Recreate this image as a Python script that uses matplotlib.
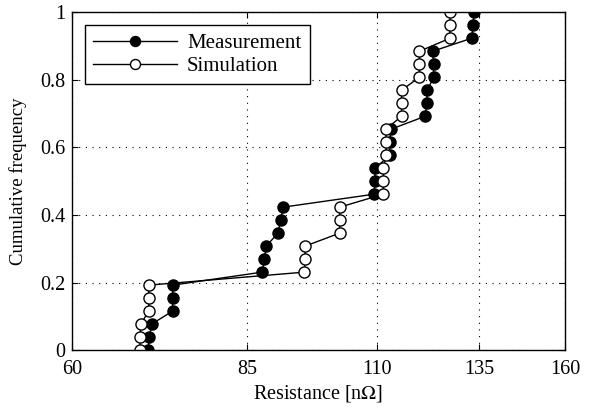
import numpy as np
import matplotlib
matplotlib.use("Agg")
import matplotlib.pyplot as plt
from matplotlib.ticker import FixedLocator, FixedFormatter, NullLocator

plt.rcParams['font.family'] = ['Liberation Serif', 'DejaVu Serif']
plt.rcParams['mathtext.fontset'] = 'stix'

cum_freq = [i / 26 for i in range(27)]
measurement = [69.8, 70.0, 70.3, 73.3, 73.3, 73.3, 87.6, 88.0, 88.3, 90.4, 90.9, 91.3,
               109.5, 109.6, 109.7, 112.9, 112.9, 113.2, 121.2, 121.5, 121.7, 123.2, 123.2,
               123.0, 132.9, 133.3, 133.5]
simulation = [68.7, 68.7, 68.8, 69.9, 69.9, 69.9, 95.3, 95.4, 95.4, 102.2, 102.2, 102.2,
              111.5, 111.5, 111.5, 112.1, 112.1, 112.1, 115.6, 115.6, 115.6, 119.8, 119.8,
              119.8, 127.3, 127.3, 127.3]
x_ticks = [60, 85, 110, 135, 160]
y_ticks = [0, 0.2, 0.4, 0.6, 0.8, 1]
y_tick_labels = ["0", "0.2", "0.4", "0.6", "0.8", "1"]

fig = plt.figure(figsize=(6.1, 4.09), dpi=100)
ax = fig.add_axes([0.118, 0.144, 0.808, 0.826])

ax.plot(measurement, cum_freq, '-o', color='black', mfc='black', mec='black',
        markersize=8, linewidth=1.0, label='Measurement')
ax.plot(simulation, cum_freq, '-o', color='black', mfc='white', mec='black',
        markersize=8, linewidth=1.0, label='Simulation')

ax.set_xscale('log')
ax.set_xlim(60, 160)
ax.set_ylim(0, 1)
ax.xaxis.set_major_locator(FixedLocator(x_ticks))
ax.xaxis.set_major_formatter(FixedFormatter([str(t) for t in x_ticks]))
ax.xaxis.set_minor_locator(NullLocator())
ax.yaxis.set_major_locator(FixedLocator(y_ticks))
ax.yaxis.set_major_formatter(FixedFormatter(y_tick_labels))

ax.grid(True, which='major', linestyle=(0, (1, 5)), color='black', linewidth=0.8)
ax.tick_params(direction='in', top=True, right=True, labelsize=14.5, length=4)
ax.tick_params(axis='x', pad=7)
ax.tick_params(axis='y', pad=5)
for s in ax.spines.values():
    s.set_linewidth(1.0)

ax.set_xlabel('Resistance [n$\\Omega$]', fontsize=14.5, labelpad=3)
ax.set_ylabel('Cumulative frequency', fontsize=13.5, labelpad=9)

leg = ax.legend(loc='upper left', fontsize=15, handlelength=4.0, fancybox=False,
                edgecolor='black', framealpha=1, borderpad=0.4, labelspacing=0.15,
                handletextpad=0.5, markerscale=0.9,
                bbox_to_anchor=(0.0, 1.0), borderaxespad=0.62)
leg.get_frame().set_linewidth(1.0)

fig.savefig('out.png', dpi=100)
